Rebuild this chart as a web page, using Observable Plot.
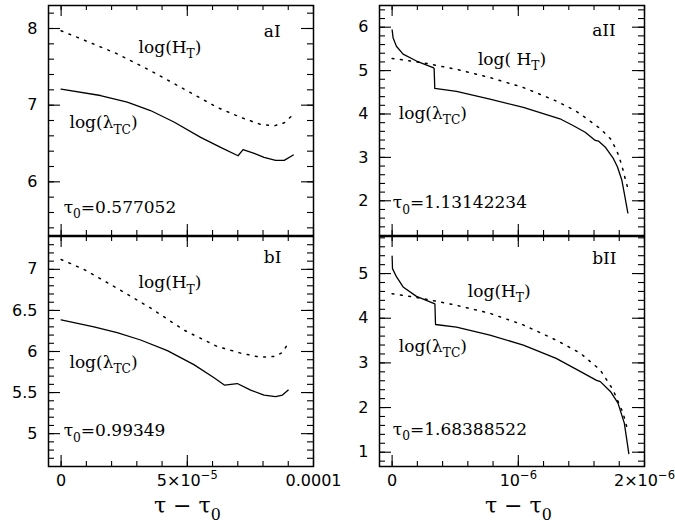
<!DOCTYPE html>
<html>
<head>
<meta charset="utf-8">
<script src="https://cdn.jsdelivr.net/npm/d3@7"></script>
<script src="https://cdn.jsdelivr.net/npm/@observablehq/plot@0.6"></script>
<style>
  html, body { margin: 0; padding: 0; background: #fff; }
  #chart { width: 675px; height: 525px; }
  #chart svg { display: block; overflow: visible; }
</style>
</head>
<body>
<div id="chart"></div>
<script>
// ---------- data (x in units of 1e-5 for column I, 1e-6 for column II) ----------
const unitI = 1e-5, unitII = 1e-6;

const aI_lamX = [0, 1.56, 2.62, 3.54, 4.47, 5.53, 6.32, 7.01, 7.21, 7.65, 8.04, 8.5, 8.84, 9.2];
const aI_lamY = [7.21, 7.126, 7.04, 6.93, 6.78, 6.58, 6.45, 6.34, 6.42, 6.37, 6.32, 6.28, 6.28, 6.35];
const aI_HX = [0, 0.9, 2.22, 3.54, 4.87, 6.19, 7.12, 7.9, 8.44, 8.84, 9.17];
const aI_HY = [7.97, 7.85, 7.67, 7.45, 7.21, 6.97, 6.84, 6.75, 6.73, 6.77, 6.87];

const aII_lamX = [0, 0.008, 0.034, 0.087, 0.193, 0.325, 0.333, 0.338, 0.51, 0.775, 1.04, 1.33, 1.437, 1.53, 1.61, 1.635, 1.688, 1.754, 1.786, 1.82, 1.84, 1.868];
const aII_lamY = [5.94, 5.75, 5.56, 5.38, 5.22, 5.07, 5.05, 4.59, 4.52, 4.34, 4.15, 3.89, 3.73, 3.58, 3.39, 3.375, 3.24, 2.97, 2.78, 2.48, 2.17, 1.72];
const aII_HX = [0, 0.246, 0.51, 0.775, 1.04, 1.30, 1.45, 1.53, 1.65, 1.73, 1.78, 1.82, 1.846, 1.868];
const aII_HY = [5.28, 5.18, 5.03, 4.84, 4.61, 4.30, 4.08, 3.92, 3.66, 3.43, 3.16, 2.82, 2.52, 2.29];

const bI_lamX = [0, 1.30, 2.22, 3.15, 4.21, 5.26, 6.06, 6.48, 6.98, 7.51, 8.04, 8.5, 8.77, 9.0];
const bI_lamY = [6.385, 6.30, 6.23, 6.14, 6.01, 5.84, 5.68, 5.59, 5.61, 5.53, 5.47, 5.45, 5.47, 5.53];
const bI_HX = [0, 0.9, 2.22, 3.54, 4.87, 6.19, 7.12, 7.9, 8.5, 8.77, 9.0];
const bI_HY = [7.12, 7.0, 6.77, 6.53, 6.26, 6.06, 5.98, 5.93, 5.94, 5.99, 6.10];

const bII_lamX = [0, 0.003, 0.034, 0.087, 0.193, 0.339, 0.344, 0.51, 0.775, 1.04, 1.30, 1.49, 1.62, 1.65, 1.73, 1.79, 1.84, 1.876];
const bII_lamY = [5.39, 5.11, 4.93, 4.70, 4.49, 4.32, 3.86, 3.80, 3.62, 3.40, 3.10, 2.81, 2.61, 2.58, 2.36, 2.10, 1.65, 0.97];
const bII_HX = [0, 0.246, 0.51, 0.775, 1.04, 1.30, 1.49, 1.65, 1.75, 1.83, 1.865];
const bII_HY = [4.55, 4.44, 4.29, 4.11, 3.85, 3.51, 3.22, 2.84, 2.40, 1.88, 1.51];

// ---------- ticks & labels ----------
const xTicksI = [0, 5e-5, 1e-4];
const xTickLabelsI = ["0", "5×10^{−5}", "0.0001"];
const xTicksII = [0, 1e-6, 2e-6];
const xTickLabelsII = ["0", "10^{−6}", "2×10^{−6}"];
const xTitle = "τ − τ_{0}";

const yTicks_aI = [6, 7, 8];          const yLabels_aI = ["6", "7", "8"];
const yTicks_aII = [2, 3, 4, 5, 6];   const yLabels_aII = ["2", "3", "4", "5", "6"];
const yTicks_bI = [5, 5.5, 6, 6.5, 7]; const yLabels_bI = ["5", "5.5", "6", "6.5", "7"];
const yTicks_bII = [1, 2, 3, 4, 5];   const yLabels_bII = ["1", "2", "3", "4", "5"];

const notes_aI = [
  {x: 8.03, y: 7.89, t: "aI"},
  {x: 3.07, y: 7.685, t: "log(H_{T})"},
  {x: 0.33, y: 6.70, t: "log(λ_{TC})"},
  {x: 0.1, y: 5.60, t: "τ_{0}=0.577052"}
];
const notes_aII = [
  {x: 1.585, y: 5.79, t: "aII"},
  {x: 0.68, y: 5.14, t: "log( H_{T})"},
  {x: 0.053, y: 3.885, t: "log(λ_{TC})"},
  {x: 0.005, y: 1.83, t: "τ_{0}=1.13142234"}
];
const notes_bI = [
  {x: 8.03, y: 7.073, t: "bI"},
  {x: 3.07, y: 6.77, t: "log(H_{T})"},
  {x: 0.33, y: 5.80, t: "log(λ_{TC})"},
  {x: 0.1, y: 4.97, t: "τ_{0}=0.99349"}
];
const notes_bII = [
  {x: 1.585, y: 5.22, t: "bII"},
  {x: 0.6, y: 4.48, t: "log(H_{T})"},
  {x: 0.053, y: 3.25, t: "log(λ_{TC})"},
  {x: 0.005, y: 1.39, t: "τ_{0}=1.68388522"}
];

// ---------- panels (one faceted Plot: fx = column, fy = row) ----------
// Each column's x is expressed as a fraction of its axis span; each panel's y as a fraction of its axis range.
const panels = [
  {fx: "I",  fy: "a", xUnit: unitI,  xSpan: 1e-4, yDomain: [5.3, 8.3],  yStep: 0.2,
   lamX: aI_lamX, lamY: aI_lamY, hX: aI_HX, hY: aI_HY, yMajor: yTicks_aI, yLabels: yLabels_aI, notes: notes_aI},
  {fx: "II", fy: "a", xUnit: unitII, xSpan: 2e-6, yDomain: [1.2, 6.5],  yStep: 0.2,
   lamX: aII_lamX, lamY: aII_lamY, hX: aII_HX, hY: aII_HY, yMajor: yTicks_aII, yLabels: yLabels_aII, notes: notes_aII},
  {fx: "I",  fy: "b", xUnit: unitI,  xSpan: 1e-4, yDomain: [4.6, 7.4],  yStep: 0.1,
   lamX: bI_lamX, lamY: bI_lamY, hX: bI_HX, hY: bI_HY, yMajor: yTicks_bI, yLabels: yLabels_bI, notes: notes_bI},
  {fx: "II", fy: "b", xUnit: unitII, xSpan: 2e-6, yDomain: [0.68, 5.83], yStep: 0.2,
   lamX: bII_lamX, lamY: bII_lamY, hX: bII_HX, hY: bII_HY, yMajor: yTicks_bII, yLabels: yLabels_bII, notes: notes_bII}
];
const columns = [
  {fx: "I",  ticks: xTicksI,  labels: xTickLabelsI,  span: 1e-4, minorStep: 1e-5, title: 5e-5},
  {fx: "II", ticks: xTicksII, labels: xTickLabelsII, span: 2e-6, minorStep: 2e-7, title: 1e-6}
];

const W = 675, H = 525, NS = "http://www.w3.org/2000/svg";
const FW = 265, FH = 231; // facet frame size in px
const nx = (p, v) => v * p.xUnit / p.xSpan;
const ny = (p, v) => (v - p.yDomain[0]) / (p.yDomain[1] - p.yDomain[0]);

const lamRows = panels.flatMap(p => p.lamX.map((x, i) => ({fx: p.fx, fy: p.fy, z: p.fx + p.fy, x: nx(p, x), y: ny(p, p.lamY[i])})));
const hRows = panels.flatMap(p => p.hX.map((x, i) => ({fx: p.fx, fy: p.fy, z: p.fx + p.fy, x: nx(p, x), y: ny(p, p.hY[i])})));
const noteRows = panels.flatMap(p => p.notes.map(d => ({fx: p.fx, fy: p.fy, x: nx(p, d.x), y: ny(p, d.y), t: d.t})));
const yLabelRows = panels.flatMap(p => p.yMajor.map((v, i) => ({fx: p.fx, fy: p.fy, y: ny(p, v), t: p.yLabels[i]})));
const yMajorRows = panels.flatMap(p => p.yMajor.map(v => ({fx: p.fx, fy: p.fy, y: ny(p, v)})));
const yMinorRows = panels.flatMap(p => {
  const [a, b] = p.yDomain, s = p.yStep;
  const k0 = Math.ceil(a / s - 1e-9), k1 = Math.floor(b / s + 1e-9);
  return d3.range(k0, k1 + 1).map(k => k * s).filter(v => v > a + 1e-9 && v < b - 1e-9)
    .map(v => ({fx: p.fx, fy: p.fy, y: ny(p, v)}));
});
const xMajorN = xTicksI.map(v => v / 1e-4);
const xMinorN = d3.range(0, 11).map(i => +(i * columns[0].minorStep / columns[0].span).toFixed(10));
const xLabelRows = columns.flatMap(c => c.ticks.map((v, i) => ({fx: c.fx, fy: "b", x: v / c.span, t: c.labels[i]})));
const titleRows = columns.map(c => ({fx: c.fx, fy: "b", x: c.title / c.span, t: xTitle}));

const tk = {stroke: "#000", strokeWidth: 1.1};
const svg = Plot.plot({
  width: W, height: H,
  marginLeft: 48, marginRight: 31, marginTop: 4, marginBottom: 58,
  fx: {domain: ["I", "II"], paddingInner: 0.1994, paddingOuter: 0, axis: null},
  fy: {domain: ["a", "b"], paddingInner: 0.0043, paddingOuter: 0, axis: null},
  x: {type: "linear", domain: [-0.05, 1], axis: null},
  y: {type: "linear", domain: [0, 1], axis: null},
  style: {background: "#fff", overflow: "visible", color: "#000", fontFamily: "DejaVu Serif"},
  marks: [
    Plot.line(hRows, {fx: "fx", fy: "fy", x: "x", y: "y", z: "z", stroke: "#000", strokeWidth: 1.5, strokeDasharray: "1.8,6.6"}),
    Plot.line(lamRows, {fx: "fx", fy: "fy", x: "x", y: "y", z: "z", stroke: "#000", strokeWidth: 1.3}),
    Plot.tickX(xMinorN, {x: d => d, insetTop: FH - 6, ...tk}),
    Plot.tickX(xMinorN, {x: d => d, insetBottom: FH - 6, ...tk}),
    Plot.tickX(xMajorN, {x: d => d, insetTop: FH - 12, ...tk}),
    Plot.tickX(xMajorN, {x: d => d, insetBottom: FH - 12, ...tk}),
    Plot.tickY(yMinorRows, {fx: "fx", fy: "fy", y: "y", insetRight: FW - 6, ...tk}),
    Plot.tickY(yMinorRows, {fx: "fx", fy: "fy", y: "y", insetLeft: FW - 6, ...tk}),
    Plot.tickY(yMajorRows, {fx: "fx", fy: "fy", y: "y", insetRight: FW - 12, ...tk}),
    Plot.tickY(yMajorRows, {fx: "fx", fy: "fy", y: "y", insetLeft: FW - 12, ...tk}),
    Plot.frame({stroke: "#000", strokeWidth: 1.5}),
    Plot.text(yLabelRows, {fx: "fx", fy: "fy", y: "y", text: "t", frameAnchor: "left", dx: -11,
      textAnchor: "end", fontSize: 16, fontFamily: "DejaVu Sans", fill: "#000"}),
    Plot.text(xLabelRows, {fx: "fx", fy: "fy", x: "x", text: "t", frameAnchor: "bottom", dy: 8,
      lineAnchor: "top", textAnchor: "middle", fontSize: 16, fontFamily: "DejaVu Sans", fill: "#000"}),
    Plot.text(titleRows, {fx: "fx", fy: "fy", x: "x", text: "t", frameAnchor: "bottom", dy: 46,
      lineAnchor: "bottom", textAnchor: "middle", fontSize: 22, fontFamily: "DejaVu Serif", fill: "#000"}),
    Plot.text(noteRows, {fx: "fx", fy: "fy", x: "x", y: "y", text: "t", textAnchor: "start", lineAnchor: "bottom",
      fontSize: 17, fontFamily: "DejaVu Serif", fill: "#000"})
  ]
});

// sub/superscripts written as _{..} and ^{..}
function richify(root) {
  root.querySelectorAll("text").forEach(t => {
    const s = t.textContent;
    if (!/[_^]\{/.test(s)) return;
    const g = t.closest("[font-size]");
    const fs = parseFloat(g ? g.getAttribute("font-size") : 16) || 16;
    t.textContent = "";
    let shift = 0;
    const add = (str, kind) => {
      const ts = document.createElementNS(NS, "tspan");
      const target = kind === "_" ? 0.32 * fs : kind === "^" ? -0.42 * fs : 0;
      ts.setAttribute("dy", (target - shift).toFixed(2));
      shift = target;
      if (kind) ts.setAttribute("font-size", (0.72 * fs).toFixed(2));
      ts.textContent = str;
      t.appendChild(ts);
    };
    const re = /([_^])\{([^}]*)\}/g;
    let last = 0, m;
    while ((m = re.exec(s))) {
      if (m.index > last) add(s.slice(last, m.index), null);
      add(m[2], m[1]);
      last = re.lastIndex;
    }
    if (last < s.length) add(s.slice(last), null);
  });
}
richify(svg);
document.getElementById("chart").appendChild(svg);
</script>
</body>
</html>
